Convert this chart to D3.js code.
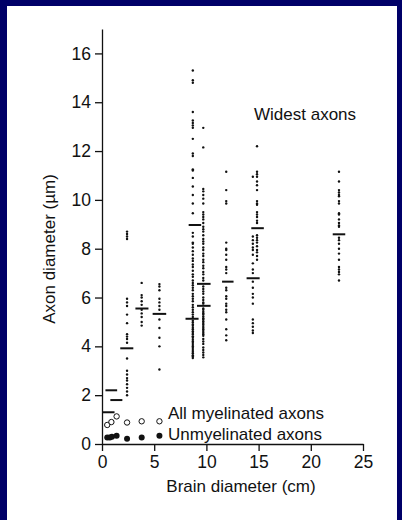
<!DOCTYPE html>
<html>
<head>
<meta charset="utf-8">
<script src="https://cdn.jsdelivr.net/npm/d3@7"></script>
<style>
  html, body { margin: 0; background: #fff; overflow: hidden; }
  svg { display: block; }
  svg text { font-family: "Liberation Sans", Arial, sans-serif; fill: #111; }
</style>
</head>
<body>
<div id="chart"></div>
<script>
var width = 402,
    height = 520,
    margin = {top: 29, bottom: 76, left: 102, right: 39};

// widest axons: column positions (cm) and diameters (µm)
var colX = [2.4, 3.8, 5.5, 8.7, 9.7, 11.9, 14.45, 14.85, 22.7];
var colY = [
  [8.7, 8.6, 8.5, 8.4, 5.95, 5.8, 5.65, 5.3, 4.95, 4.5, 4.4, 4.3, 4.15, 3.5, 3.0, 2.85, 2.7, 2.6, 2.45, 2.3, 2.15, 2.0],
  [6.6, 6.1, 6.0, 5.85, 5.7, 5.5, 5.35, 5.2, 5.0, 4.85],
  [6.55, 6.45, 6.3, 5.95, 5.8, 5.65, 5.5, 5.1, 4.75, 4.35, 4.0, 3.05],
  [15.3, 14.9, 14.8, 13.6, 13.25, 13.15, 13.05, 12.95, 12.5, 11.9, 11.8, 11.25, 11.2, 10.9, 10.55, 10.2, 9.85, 9.45,
   8.65, 8.5, 8.25, 8.2, 8.05, 7.9, 7.75, 7.6, 7.5, 7.35, 7.25, 7.1, 6.95, 6.85, 6.7, 6.6, 6.5, 6.4, 6.3, 6.15, 6.05,
   5.95, 5.85, 5.7, 5.6, 5.5, 5.4, 5.3, 5.2, 5.05, 4.98, 4.9, 4.84, 4.76, 4.7, 4.62, 4.55, 4.49, 4.41, 4.35, 4.27,
   4.2, 4.14, 4.06, 3.99, 3.93, 3.85, 3.78, 3.72, 3.64, 3.58, 3.52],
  [12.95, 12.15, 10.45, 10.35, 10.2, 10.05, 9.85, 9.5, 9.4, 9.3, 9.2, 9.05, 8.9, 8.8, 8.7, 8.55, 8.4, 8.3, 8.2, 8.05,
   7.95, 7.8, 7.7, 7.55, 7.45, 7.3, 7.2, 7.05, 6.95, 6.8, 6.7, 6.45, 6.35, 6.25, 6.15, 6.0, 5.9, 5.8, 5.75,
   5.55, 5.5, 5.42, 5.36, 5.3, 5.22, 5.15, 5.1, 5.03, 4.96, 4.9, 4.83, 4.76, 4.7, 4.63, 4.56, 4.5, 4.43,
   4.3, 4.2, 4.1, 3.95, 3.85, 3.75, 3.65, 3.55],
  [11.15, 10.4, 9.95, 9.85, 8.25, 8.0, 7.95, 7.75, 7.55, 7.25, 7.15, 7.0, 6.4, 6.3, 6.05, 5.95, 5.75, 5.65, 5.5, 5.4, 5.1, 4.7, 4.45, 4.25],
  [10.95, 8.5, 8.35, 8.2, 8.05, 7.95, 7.75, 7.4, 7.15, 7.0, 6.65, 6.4, 6.15, 6.0, 5.75, 5.1, 4.95, 4.8, 4.65, 4.55],
  [12.2, 11.15, 11.05, 10.95, 10.75, 10.6, 10.4, 9.95, 9.85, 9.8, 9.5, 9.4, 9.3, 9.15, 9.05, 8.55, 8.45, 8.35, 8.25, 8.1, 7.95, 7.85, 7.7, 7.55],
  [11.15, 10.75, 10.4, 10.3, 10.2, 10.15, 9.95, 9.85, 9.45, 9.4, 9.2, 9.05, 8.95, 8.9, 8.45, 8.35, 8.2, 8.0, 7.8, 7.55, 7.25, 7.15, 7.05, 6.95, 6.7]
];

// mean bars: from, to (cm), value (µm)
var meanFrom = [0.33, 0.8, 0.0, 1.75, 3.2, 4.85, 8.0, 8.3, 9.1, 9.1, 11.5, 13.85, 14.3, 22.1];
var meanTo   = [1.45, 1.95, 1.2, 3.0, 4.45, 6.15, 9.25, 9.5, 10.4, 10.4, 12.6, 15.1, 15.5, 23.3];
var meanVal  = [2.2, 1.8, 1.3, 3.92, 5.55, 5.33, 5.13, 8.97, 6.56, 5.66, 6.65, 6.79, 8.84, 8.59];

// all myelinated (open) and unmyelinated (filled)
var myelX = [0.5, 0.9, 1.4, 2.4, 3.8, 5.5];
var myelY = [0.78, 0.9, 1.13, 0.88, 0.93, 0.93];
var unmyX = [0.5, 0.75, 0.95, 1.4, 2.4, 3.8, 5.5];
var unmyY = [0.27, 0.27, 0.3, 0.34, 0.21, 0.27, 0.34];

var xTicks = [0, 5, 10, 15, 20, 25];
var yTicks = [0, 2, 4, 6, 8, 10, 12, 14, 16];

var svg = d3.select('#chart')
    .append('svg')
    .attr('width', width)
    .attr('height', height);

// navy frame on left, top and right; white runs off the bottom edge
svg.append("rect").attr("width", width).attr("height", height).attr("fill", "#000068");
svg.append("rect").attr("x", 7).attr("y", 6).attr("width", 390).attr("height", height + 20).attr("fill", "#fff");

var x = d3.scaleLinear().domain([0, 25]).range([margin.left, width - margin.right]);
var y = d3.scaleLinear().domain([0, 17]).range([height - margin.bottom, margin.top]);

var xAxis = svg.append("g")
    .attr("transform", "translate(0," + (height - margin.bottom) + ")")
    .call(d3.axisBottom(x).tickValues(xTicks).tickSize(7).tickSizeOuter(0).tickPadding(5));
var yAxis = svg.append("g")
    .attr("transform", "translate(" + margin.left + ",0)")
    .call(d3.axisLeft(y).tickValues(yTicks).tickSize(7).tickSizeOuter(0).tickPadding(4));

[xAxis, yAxis].forEach(function(g) {
    g.selectAll("path, line").attr("stroke", "#111").attr("stroke-width", 1.3);
    g.selectAll("text").style("font-size", "17.5px").attr("fill", "#111");
});

// dots
var dots = svg.append("g");
for (var i = 0; i < colX.length; i++) {
    dots.selectAll(null)
        .data(colY[i])
        .enter().append("circle")
        .attr("cx", x(colX[i]))
        .attr("cy", function(d) { return y(d); })
        .attr("r", 1.2)
        .attr("fill", "#111");
}

// mean bars
svg.append("g").selectAll("line")
    .data(meanVal)
    .enter().append("line")
    .attr("x1", function(d, i) { return x(meanFrom[i]); })
    .attr("x2", function(d, i) { return x(meanTo[i]); })
    .attr("y1", function(d) { return y(d); })
    .attr("y2", function(d) { return y(d); })
    .attr("stroke", "#111")
    .attr("stroke-width", 2);

svg.append("g").selectAll("circle")
    .data(myelY)
    .enter().append("circle")
    .attr("cx", function(d, i) { return x(myelX[i]); })
    .attr("cy", function(d) { return y(d); })
    .attr("r", 2.7)
    .attr("fill", "#fff")
    .attr("stroke", "#111")
    .attr("stroke-width", 1);

svg.append("g").selectAll("circle")
    .data(unmyY)
    .enter().append("circle")
    .attr("cx", function(d, i) { return x(unmyX[i]); })
    .attr("cy", function(d) { return y(d); })
    .attr("r", 3)
    .attr("fill", "#111");

// labels
svg.append("text").attr("x", 254).attr("y", 120).style("font-size", "17px").text("Widest axons");
svg.append("text").attr("x", 168).attr("y", 418.5).style("font-size", "17px").text("All myelinated axons");
svg.append("text").attr("x", 168).attr("y", 439.5).style("font-size", "17px").text("Unmyelinated axons");

svg.append("text")
    .attr("x", 241).attr("y", 492)
    .attr("text-anchor", "middle")
    .style("font-size", "17px")
    .text("Brain diameter (cm)");

svg.append("text")
    .attr("transform", "translate(54.5,249) rotate(-90)")
    .attr("text-anchor", "middle")
    .style("font-size", "17px")
    .text("Axon diameter (µm)");
</script>
</body>
</html>
